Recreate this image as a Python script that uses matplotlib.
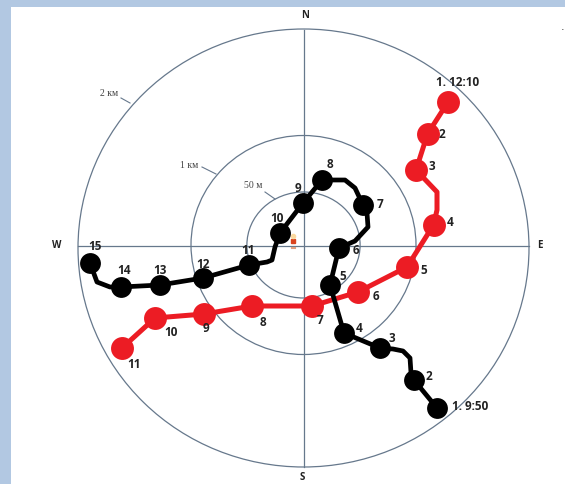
import matplotlib
matplotlib.use("Agg")
import matplotlib.pyplot as plt
from matplotlib.patches import Ellipse, Rectangle

# ------------------------
# Values (picture px, y down)
# ------------------------
black_x = [437, 414, 380, 344, 330, 339, 363, 322, 303, 280, 249, 203, 160, 121, 90]
black_y = [408, 380, 348, 333, 285, 248, 205, 180, 203, 233, 265, 278, 285, 287, 263]
black_labels = ["1. 9:50", "2", "3", "4", "5", "6", "7", "8", "9", "10", "11", "12", "13", "14", "15"]
black_label_x = [452, 429, 392, 359, 343, 356, 380, 330, 298, 277, 248, 203, 160, 124, 95]
black_label_y = [406, 376, 338, 329, 277, 251, 205, 165, 189, 219, 250, 264, 271, 271, 247]

# the hand drawn line bends between the stops
black_path_x = [437, 414, 411, 410, 403, 393, 380, 344, 330, 339, 355, 368, 367, 363, 355, 345,
                322, 303, 280, 275, 272, 267, 249, 203, 160, 121, 110, 97, 90]
black_path_y = [408, 380, 373, 358, 351, 349, 348, 333, 285, 248, 241, 227, 213, 205, 188, 180,
                180, 203, 233, 247, 260, 262, 265, 278, 285, 287, 287, 282, 263]

red_x = [448, 427.5, 416, 433.5, 407, 358, 312, 252, 204, 155, 122]
red_y = [102, 134, 170, 225, 267, 292, 306, 306, 314, 318, 348]
red_labels = ["1. 12:10", "2", "3", "4", "5", "6", "7", "8", "9", "10", "11"]
red_label_x = [458, 442, 432, 450, 424, 376, 320, 263, 206, 171, 134]
red_label_y = [82, 134, 167, 222, 270, 297, 321, 323, 329, 333, 365]

red_path_x = [448, 427.5, 416, 437, 437, 433.5, 407, 358, 312, 252, 204, 155, 122]
red_path_y = [102, 134, 170, 192, 210, 225, 267, 292, 306, 306, 314, 318, 348]

ring_names = ["50 м", "1 км", "2 км"]
ring_rx = [56.6, 112.5, 225.5]
ring_ry = [53, 109.5, 219]
ring_cy = [245, 245, 248]
ring_label_x = [253, 189, 109]
ring_label_y = [185, 165, 93]
ring_tick_x = [(265, 275), (202, 216), (121, 130)]
ring_tick_y = [(192, 199), (167, 174), (98, 103)]

compass = ["N", "W", "E", "S"]
compass_x = [305, 57, 540, 302]
compass_y = [16, 245, 246, 477]

CX = 303.5
CY = 246
LINE = "#66788c"
BG = "#b2c8e2"
RED = "#ec1c24"

fig = plt.figure(figsize=(5.65, 4.84), dpi=100, facecolor=BG)
ax = fig.add_axes([0, 0, 1, 1])
ax.set_xlim(0, 565)
ax.set_ylim(484, 0)
ax.axis("off")

# white sheet
ax.add_patch(Rectangle((11, 7), 554, 477, facecolor="white", edgecolor="none", zorder=0))

# ------------------------
# Rings and cross
# ------------------------
for i in range(len(ring_names)):
    ax.add_patch(Ellipse((CX, ring_cy[i]), 2 * ring_rx[i], 2 * ring_ry[i], fill=False,
                         edgecolor=LINE, linewidth=0.9, zorder=1))
    ax.plot(ring_tick_x[i], ring_tick_y[i], color=LINE, linewidth=0.8, zorder=1)
    ax.text(ring_label_x[i], ring_label_y[i], ring_names[i], fontsize=7, color="#444444",
            family="Liberation Serif", ha="center", va="center")

ax.plot([78, 529], [CY, CY], color=LINE, linewidth=0.9, zorder=1)
ax.plot([CX, CX], [30, 467], color=LINE, linewidth=0.9, zorder=1)

for name, x, y in zip(compass, compass_x, compass_y):
    ax.text(x, y, name, fontsize=7, fontweight="bold", color="#222222",
            family="Open Sans", ha="center", va="center")

# person in the middle
ax.plot(293, 241, marker="s", markersize=3.5, color="#d9431e", zorder=2)
ax.plot(293, 236, marker="o", markersize=3, color="#fbd9a0", zorder=2)
ax.plot([291.5, 294.5], [248, 248], color="#e0a080", linewidth=1.5, zorder=2)

# stray dot top right
ax.text(563, 27, ".", fontsize=8, color="#333333", ha="center", va="center")

# ------------------------
# Tracks
# ------------------------
ax.plot(red_path_x, red_path_y, color=RED, linewidth=3.6, solid_joinstyle="round", zorder=3)
ax.plot(red_x, red_y, "o", color=RED, markersize=16.5, markeredgewidth=0, zorder=3)
ax.plot(black_path_x, black_path_y, color="black", linewidth=3.4, solid_joinstyle="round", zorder=4)
ax.plot(black_x, black_y, "o", color="black", markersize=15, markeredgewidth=0, zorder=4)

for label, x, y in zip(red_labels, red_label_x, red_label_y):
    ax.text(x, y, label, fontsize=8.5, fontweight="bold", color="#222222",
            family="Open Sans", ha="center", va="center", zorder=5)
for label, x, y in zip(black_labels, black_label_x, black_label_y):
    ax.text(x, y, label, fontsize=8.5, fontweight="bold", color="#222222",
            family="Open Sans", ha="left" if label.startswith("1.") else "center",
            va="center", zorder=5)

fig.savefig("out.png", dpi=100, facecolor=fig.get_facecolor())
